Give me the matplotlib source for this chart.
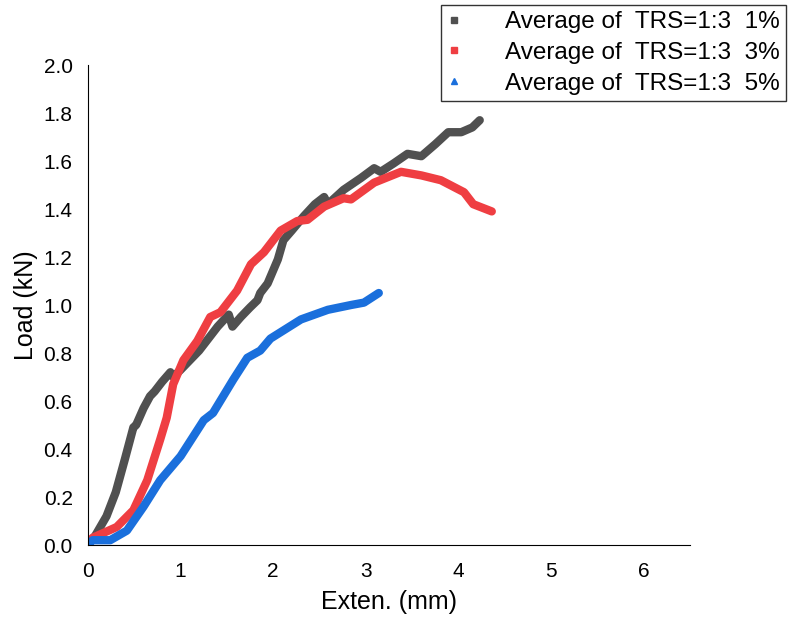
import matplotlib.pyplot as plt

plt.rcParams['font.family'] = ['Liberation Sans', 'DejaVu Sans']

labels = ['Average of  TRS=1:3  1%', 'Average of  TRS=1:3  3%', 'Average of  TRS=1:3  5%']
colors = ['#505050', '#ef3e42', '#1a6fdc']
markers = ['s', 's', '^']

x1 = [0, 0.08, 0.2, 0.3, 0.4, 0.49, 0.52, 0.6, 0.67, 0.72, 0.8, 0.89, 0.92, 1.0, 1.1, 1.2, 1.3,
      1.4, 1.52, 1.56, 1.65, 1.75, 1.83, 1.86, 1.94, 2.05, 2.11, 2.2, 2.33, 2.45, 2.55, 2.59,
      2.76, 2.95, 3.09, 3.16, 3.3, 3.45, 3.6, 3.75, 3.89, 4.03, 4.15, 4.23]
y1 = [0, 0.04, 0.12, 0.22, 0.36, 0.49, 0.5, 0.57, 0.62, 0.64, 0.68, 0.72, 0.70, 0.73, 0.77, 0.81, 0.86,
      0.91, 0.96, 0.91, 0.95, 0.99, 1.02, 1.05, 1.09, 1.19, 1.27, 1.31, 1.37, 1.42, 1.45, 1.42,
      1.48, 1.53, 1.57, 1.555, 1.59, 1.63, 1.62, 1.67, 1.72, 1.72, 1.74, 1.77]

x2 = [0, 0.05, 0.31, 0.49, 0.64, 0.78, 0.85, 0.92, 1.03, 1.18, 1.32, 1.43, 1.61, 1.76, 1.90,
      2.08, 2.26, 2.37, 2.55, 2.76, 2.84, 3.09, 3.38, 3.6, 3.81, 4.06, 4.16, 4.36]
y2 = [0, 0.03, 0.075, 0.145, 0.27, 0.44, 0.53, 0.67, 0.77, 0.85, 0.95, 0.97, 1.06, 1.17, 1.22,
      1.31, 1.35, 1.355, 1.41, 1.445, 1.44, 1.51, 1.555, 1.54, 1.52, 1.47, 1.42, 1.39]

x3 = [0, 0.05, 0.24, 0.42, 0.6, 0.78, 1.0, 1.25, 1.35, 1.57, 1.72, 1.86, 1.97, 2.30, 2.59,
      2.84, 2.98, 3.14]
y3 = [0, 0.02, 0.02, 0.06, 0.16, 0.27, 0.37, 0.52, 0.55, 0.69, 0.78, 0.81, 0.86, 0.94, 0.98,
      1.00, 1.01, 1.05]

fig = plt.figure(figsize=(7.97, 6.24), dpi=100)
ax = fig.add_axes([0.1104, 0.1266, 0.7553, 0.7692])

for xs, ys, c in zip([x1, x2, x3], [y1, y2, y3], colors):
    ax.plot(xs, ys, color=c, lw=6, solid_capstyle='round', solid_joinstyle='round')

handles = [plt.Line2D([], [], ls='none', marker=m, color=c, markersize=5) for m, c in zip(markers, colors)]
leg = fig.legend(handles, labels, loc='upper left', bbox_to_anchor=(441 / 797, 1 - 5 / 624), fontsize=17.5,
                 frameon=True, fancybox=False, edgecolor='black', handlelength=0.6,
                 handletextpad=1.8, borderpad=0.25, labelspacing=0.36, borderaxespad=0)
leg.get_frame().set_linewidth(1.0)

ax.set_xlim(0, 6.5)
ax.set_ylim(0, 2.0)
ax.set_xticks(range(7))
ax.set_yticks([i * 0.2 for i in range(11)])
ax.set_yticklabels([f'{i * 0.2:.1f}' for i in range(11)])
ax.tick_params(length=0, labelsize=15)
ax.tick_params(axis='x', pad=12)
ax.tick_params(axis='y', pad=11)
ax.spines['top'].set_visible(False)
ax.spines['right'].set_visible(False)
ax.set_xlabel('Exten. (mm)', fontsize=18, labelpad=7)
ax.set_ylabel('Load (kN)', fontsize=18, labelpad=4)

fig.savefig('out.png', dpi=100)
